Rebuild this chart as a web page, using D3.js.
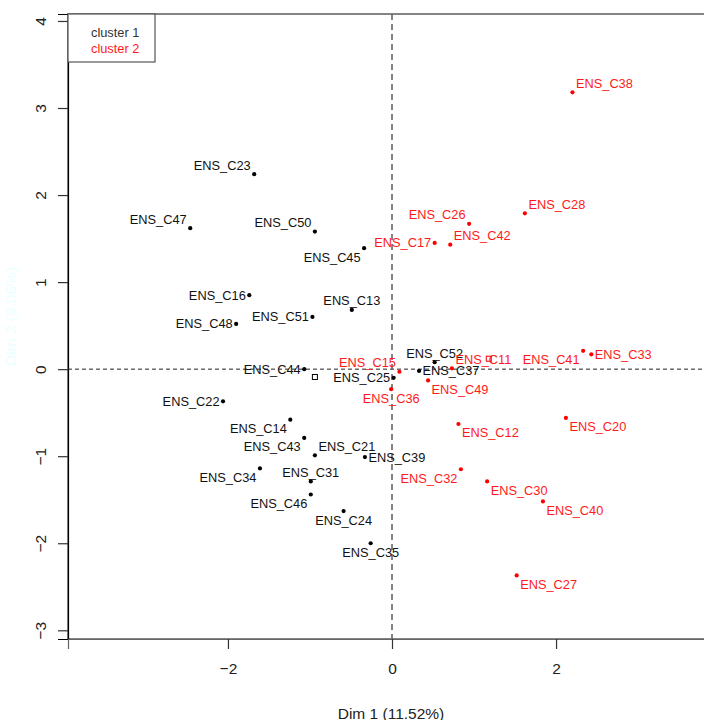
<!DOCTYPE html>
<html>
<head>
<meta charset="utf-8">
<script src="https://cdn.jsdelivr.net/npm/d3@7"></script>
<style>
  html, body { margin: 0; padding: 0; background: #fff; }
  svg { display: block; }
  text { font-family: "Liberation Sans", Arial, sans-serif; }
</style>
</head>
<body>
<svg id="chart" width="704" height="720"></svg>
<script>
// ---------- data ----------
const names = ["ENS_C23","ENS_C47","ENS_C50","ENS_C45","ENS_C16","ENS_C48","ENS_C51","ENS_C13","ENS_C44","ENS_C22","ENS_C14","ENS_C43","ENS_C21","ENS_C39","ENS_C34","ENS_C31","ENS_C46","ENS_C24","ENS_C35","ENS_C25","ENS_C52","ENS_C37",
               "ENS_C38","ENS_C28","ENS_C26","ENS_C42","ENS_C17","ENS_C15","ENS_C11","ENS_C41","ENS_C33","ENS_C49","ENS_C36","ENS_C12","ENS_C20","ENS_C32","ENS_C30","ENS_C40","ENS_C27"];
const cluster = [1,1,1,1,1,1,1,1,1,1,1,1,1,1,1,1,1,1,1,1,1,1,
                 2,2,2,2,2,2,2,2,2,2,2,2,2,2,2,2,2];
const dim1 = [-1.68,-2.46,-0.94,-0.34,-1.74,-1.90,-0.97,-0.49,-1.07,-2.06,-1.24,-1.07,-0.94,-0.33,-1.61,-0.99,-0.99,-0.59,-0.26,0.02,0.52,0.33,
              2.20,1.62,0.94,0.71,0.52,0.09,0.73,2.33,2.43,0.44,-0.01,0.81,2.12,0.84,1.16,1.84,1.52];
const dim2 = [2.24,1.62,1.58,1.39,0.85,0.52,0.60,0.68,0.00,-0.37,-0.58,-0.79,-0.99,-1.01,-1.14,-1.29,-1.44,-1.63,-2.00,-0.10,0.08,-0.02,
              3.18,1.79,1.67,1.43,1.45,-0.03,0.01,0.21,0.17,-0.13,-0.23,-0.63,-0.56,-1.15,-1.29,-1.52,-2.37];
// label side relative to its point (t=top, b=bottom, l=left, r=right)
const labelPos = ["tl","tl","tl","bl","l","l","l","t","l","l","bl","bl","tr","r","bl","t","bl","b","b","l","t","r",
                  "tr","tr","tl","tr","l","tl","tr","bl","r","br","b","br","br","bl","br","br","br"];
const clusterNames = ["cluster 1","cluster 2"];
const clusterColors = ["#000000","#ff0000"];
const centerX = [-0.94, 1.18];
const centerY = [-0.09, 0.12];
const xTicks = [-2, 0, 2];
const yTicks = [-3, -2, -1, 0, 1, 2, 3, 4];
const xTitle = "Dim 1 (11.52%)";
const yTitle = "Dim 2 (9.06%)";

// ---------- layout ----------
const svg = d3.select("#chart");
const L = 68, R = 716, T = 14, B = 639;
const x = d3.scaleLinear().domain([-3.95, 3.95]).range([L, R]);
const y = d3.scaleLinear().domain([-3.10, 4.08]).range([B, T]);

// frame
svg.append("rect").attr("x", L).attr("y", T).attr("width", R - L).attr("height", B - T)
  .attr("fill", "none").attr("stroke", "#666").attr("stroke-width", 1.6);

// axes
const yAxis = svg.append("g").attr("transform", `translate(${L},0)`)
  .call(d3.axisLeft(y).tickValues(yTicks).tickSize(10).tickPadding(14).tickFormat(d3.format("d")));
yAxis.select(".domain").attr("stroke", "#000").attr("stroke-width", 1.2);
yAxis.selectAll(".tick line").attr("stroke", "#333").attr("stroke-width", 1.2);
yAxis.selectAll(".tick text")
  .attr("font-size", 15.5).attr("fill", "#222")
  .attr("font-family", "'Liberation Sans', Arial, sans-serif")
  .attr("text-anchor", "middle").attr("dy", null).attr("x", null)
  .attr("transform", "translate(-28,0) rotate(-90)")
  .attr("dominant-baseline", "central");

const xAxis = svg.append("g").attr("transform", `translate(0,${B})`)
  .call(d3.axisBottom(x).tickValues(xTicks).tickSize(10).tickPadding(14).tickFormat(d3.format("d")));
xAxis.select(".domain").attr("stroke", "#666").attr("stroke-width", 1.2);
xAxis.selectAll(".tick line").attr("stroke", "#333").attr("stroke-width", 1.2);
xAxis.selectAll(".tick text")
  .attr("font-size", 15.5).attr("fill", "#222")
  .attr("font-family", "'Liberation Sans', Arial, sans-serif");

// axis titles
svg.append("text").attr("x", x(0) - 1).attr("y", 713)
  .attr("text-anchor", "middle").attr("dominant-baseline", "central")
  .attr("font-size", 15.5).attr("fill", "#222").text(xTitle);
svg.append("text").attr("transform", `translate(10,${(T + B) / 2 - 10}) rotate(-90)`)
  .attr("text-anchor", "middle").attr("dominant-baseline", "central")
  .attr("font-size", 15.5).attr("fill", "#ecffff").text(yTitle);

// reference lines
svg.append("line").attr("x1", L).attr("x2", R).attr("y1", y(0)).attr("y2", y(0))
  .attr("stroke", "#222").attr("stroke-width", 1).attr("stroke-dasharray", "4,3");
svg.append("line").attr("x1", x(0)).attr("x2", x(0)).attr("y1", T).attr("y2", B)
  .attr("stroke", "#666").attr("stroke-width", 1.6).attr("stroke-dasharray", "6,4");

// points
const pts = names.map((n, i) => ({ name: n, c: cluster[i], x: dim1[i], y: dim2[i], pos: labelPos[i] }));
svg.append("g").selectAll("circle").data(pts).join("circle")
  .attr("cx", d => x(d.x)).attr("cy", d => y(d.y)).attr("r", 2.1)
  .attr("fill", d => clusterColors[d.c - 1]);

// labels
const hOff = 3.5, vOff = 9;
svg.append("g").selectAll("text").data(pts).join("text")
  .attr("x", d => {
    const px = x(d.x);
    if (d.pos.includes("l")) return px - hOff;
    if (d.pos.includes("r")) return px + hOff;
    return px;
  })
  .attr("y", d => {
    const py = y(d.y);
    if (d.pos.includes("t")) return py - vOff;
    if (d.pos.includes("b")) return py + vOff;
    return py;
  })
  .attr("text-anchor", d => d.pos.includes("l") ? "end" : d.pos.includes("r") ? "start" : "middle")
  .attr("dominant-baseline", "central")
  .attr("font-size", 12.8)
  .attr("fill", d => d.c === 1 ? "#111" : "#ff1a1a")
  .text(d => d.name);

// cluster centres (hollow squares)
svg.append("g").selectAll("rect").data(clusterNames.map((n, i) => ({ i, x: centerX[i], y: centerY[i] })))
  .join("rect")
  .attr("x", d => x(d.x) - 2.5).attr("y", d => y(d.y) - 2.5).attr("width", 5).attr("height", 5)
  .attr("fill", "none").attr("stroke", d => clusterColors[d.i]).attr("stroke-width", 1);

// legend
const lg = svg.append("g");
lg.append("rect").attr("x", L).attr("y", T).attr("width", 87).attr("height", 48)
  .attr("fill", "#fff").attr("stroke", "#555").attr("stroke-width", 1.2);
lg.selectAll("text").data(clusterNames).join("text")
  .attr("x", 91).attr("y", (d, i) => 32 + i * 16)
  .attr("dominant-baseline", "central").attr("font-size", 12.8)
  .attr("fill", (d, i) => i === 0 ? "#333" : "#ff1a1a")
  .text(d => d);
</script>
</body>
</html>
